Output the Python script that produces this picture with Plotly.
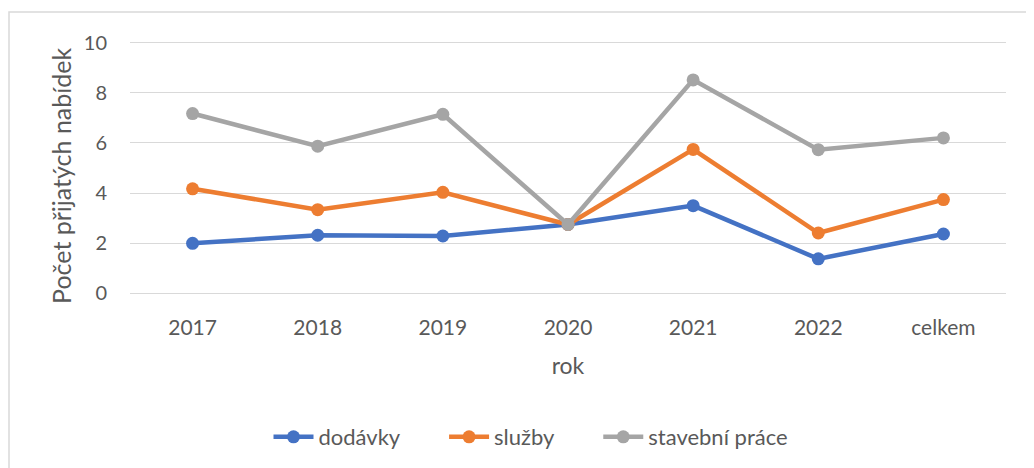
import plotly.graph_objects as go

categories = ["2017", "2018", "2019", "2020", "2021", "2022", "celkem"]
dodavky = [2.0, 2.32, 2.29, 2.75, 3.5, 1.38, 2.37]
sluzby = [4.17, 3.34, 4.03, 2.75, 5.74, 2.41, 3.74]
stavebni = [7.17, 5.87, 7.14, 2.75, 8.51, 5.73, 6.2]

series = [
    ("dodávky", dodavky, "#4472C4"),
    ("služby", sluzby, "#ED7D31"),
    ("stavební práce", stavebni, "#A5A5A5"),
]

FONT = "Lato"
TXT = "#595959"
PAD = "\u00a0" * 7

# page body has an 8px margin, so the figure is sized to fit the window
W, H = 1026, 460
L, T, R, B = 122, 33, 28, 172
pw, ph = W - L - R, H - T - B

fig = go.Figure()
for i, (name, vals, col) in enumerate(series):
    fig.add_trace(go.Scatter(
        x=categories, y=vals, name=name + (PAD if i < len(series) - 1 else ""),
        mode="lines+markers",
        line=dict(color=col, width=4.5),
        marker=dict(color=col, size=13),
    ))

fig.update_layout(
    width=W, height=H,
    margin=dict(l=L, r=R, t=T, b=B),
    paper_bgcolor="white", plot_bgcolor="white",
    font=dict(family=FONT, size=20, color=TXT),
    showlegend=True,
    legend=dict(orientation="h", x=(531 - 8 - L) / pw, xanchor="center",
                y=-(437 - 296) / ph, yanchor="middle",
                font=dict(size=22, color=TXT), itemwidth=40),
    shapes=[dict(type="rect", xref="paper", yref="paper",
                 x0=(1 - L) / pw, x1=1.2, y0=-0.9, y1=1 + (T - 4) / ph,
                 line=dict(color="#D9D9D9", width=1.5), fillcolor="rgba(0,0,0,0)", layer="above")],
    annotations=[dict(text="Počet přijatých nabídek", xref="paper", yref="paper",
                      x=(61 - 8 - L) / pw, y=(296 - 176.5) / ph, xanchor="center", yanchor="middle",
                      textangle=-90, showarrow=False, font=dict(size=25, color=TXT))],
)
fig.update_xaxes(
    type="category", range=[-0.5, 6.5], showgrid=False, zeroline=False,
    showline=False, ticks="outside", ticklen=14, tickcolor="rgba(0,0,0,0)",
    tickfont=dict(size=21, color=TXT),
    title=dict(text="rok", font=dict(size=23, color=TXT), standoff=19),
)
fig.update_yaxes(
    range=[-0.06, 10.06], tickvals=[0, 2, 4, 6, 8, 10], showgrid=True,
    gridcolor="#D9D9D9", gridwidth=1.3,
    zeroline=False, showline=False, ticks="outside", ticklen=18, tickcolor="rgba(0,0,0,0)",
    tickfont=dict(size=20, color=TXT),
)

fig.write_html("out.html")
